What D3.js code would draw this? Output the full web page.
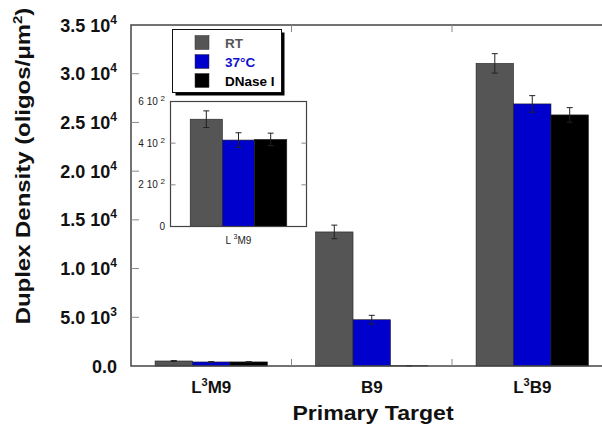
<!DOCTYPE html>
<html>
<head>
    <title>Duplex Density</title>
    <script src="https://cdn.jsdelivr.net/npm/d3@7"></script>
    <style>
        body { margin: 0; background: #fff; }
        text { font-family: "Liberation Sans", Arial, sans-serif; }
    </style>
</head>
<body>
    <svg width="602" height="425" id="mainsvg" style="display: block; overflow: hidden;"></svg>
    <script>
        // data
        const targets = ['L3M9', 'B9', 'L3B9'];
        const conditions = ['RT', '37°C', 'DNase I'];
        const rtVals = [515, 13760, 31060];
        const rtErr = [40, 700, 1000];
        const warmVals = [415, 4750, 26900];
        const warmErr = [35, 450, 850];
        const dnaseVals = [418, 30, 25770];
        const dnaseErr = [30, 15, 750];
        const yTicks = [0, 5000, 10000, 15000, 20000, 25000, 30000, 35000];
        const insetTicks = [0, 200, 400, 600];

        const colors = ['#555555', '#0000cc', '#000000'];
        const legendText = ['#555555', '#1010cc', '#000000'];
        const series = [
            { name: conditions[0], vals: rtVals, err: rtErr },
            { name: conditions[1], vals: warmVals, err: warmErr },
            { name: conditions[2], vals: dnaseVals, err: dnaseErr }
        ];

        const svg = d3.select('svg');
        const frameColor = '#444';
        const tickColor = '#888';

        const L = 131, T = 25, B = 366, R = 612.5;
        const x = d3.scaleBand().domain(targets).range([L, R]).paddingInner(0).paddingOuter(0);
        const xs = d3.scaleBand().domain(conditions).range([x.bandwidth() * 0.15, x.bandwidth() * 0.85]);
        const y = d3.scaleLinear().domain([0, 35000]).range([B, T]);

        // label with superscripts: the tspan after a superscript drops back down
        const supLabel = (sel, parts, supSize, rise) => {
            let lifted = false;
            parts.forEach(p => {
                const ts = sel.append('tspan').text(p.t);
                if (p.sup) { ts.attr('font-size', supSize).attr('dy', -rise); lifted = true; }
                else if (lifted) { ts.attr('dy', rise); lifted = false; }
            });
        };
        const catParts = c => c.startsWith('L3') ? [{ t: 'L' }, { t: '3', sup: true }, { t: c.slice(2) }] : [{ t: c }];

        // bars
        const groups = svg.selectAll('.grp').data(targets).join('g').attr('class', 'grp')
            .attr('transform', d => `translate(${x(d)},0)`);
        series.forEach((s, si) => {
            groups.append('rect')
                .attr('x', xs(s.name)).attr('width', xs.bandwidth())
                .attr('y', (d, i) => y(s.vals[i])).attr('height', (d, i) => B - y(s.vals[i]))
                .attr('fill', colors[si]).attr('stroke', '#222').attr('stroke-width', 0.6);
            const cx = xs(s.name) + xs.bandwidth() / 2;
            groups.append('path')
                .attr('d', (d, i) => {
                    const y1 = y(s.vals[i] + s.err[i]), y0 = y(Math.max(0, s.vals[i] - s.err[i]));
                    return `M${cx},${y1}V${y0}M${cx - 3},${y1}H${cx + 3}M${cx - 3},${y0}H${cx + 3}`;
                })
                .attr('stroke', '#222').attr('stroke-width', 1).attr('fill', 'none');
        });

        // frame
        svg.append('rect').attr('x', L).attr('y', T).attr('width', R - L).attr('height', B - T)
            .attr('fill', 'none').attr('stroke', frameColor).attr('stroke-width', 1.5);

        // y ticks inside
        svg.selectAll('.ytick').data(yTicks.slice(1, -1)).join('line').attr('class', 'ytick')
            .attr('x1', L).attr('x2', L + 8).attr('y1', y).attr('y2', y)
            .attr('stroke', tickColor).attr('stroke-width', 1);
        // x ticks between categories, top and bottom
        const bounds = targets.slice(1).map(d => x(d));
        bounds.forEach(bx => {
            svg.append('line').attr('x1', bx).attr('x2', bx).attr('y1', B).attr('y2', B - 7)
                .attr('stroke', tickColor);
            svg.append('line').attr('x1', bx).attr('x2', bx).attr('y1', T).attr('y2', T + 7)
                .attr('stroke', tickColor);
        });

        // y tick labels
        yTicks.forEach(v => {
            const t = svg.append('text').attr('x', 117).attr('y', y(v) + 6.5)
                .attr('text-anchor', 'end').attr('font-size', 18).attr('font-weight', 'bold').attr('fill', '#111');
            if (v === 0) { t.text('0.0'); return; }
            const e = Math.floor(Math.log10(v));
            const m = (v / Math.pow(10, e)).toFixed(1);
            supLabel(t, [{ t: m + ' 10' }, { t: String(e), sup: true }], 12, 8);
        });

        // category labels
        targets.forEach(c => {
            const t = svg.append('text').attr('x', x(c) + x.bandwidth() / 2).attr('y', 393)
                .attr('text-anchor', 'middle').attr('font-size', 17).attr('font-weight', 'bold').attr('fill', '#111');
            supLabel(t, catParts(c), 11, 7);
        });

        svg.append('text').attr('transform', 'translate(373,420) scale(1.1,1)').attr('text-anchor', 'middle')
            .attr('font-size', 21).attr('font-weight', 'bold').attr('fill', '#111').text('Primary Target');

        const yl = svg.append('text').attr('transform', 'translate(30,166) rotate(-90) scale(1.14,1)')
            .attr('text-anchor', 'middle').attr('font-size', 21).attr('font-weight', 'bold').attr('fill', '#111');
        supLabel(yl, [{ t: 'Duplex Density (oligos/\u03bcm' }, { t: '2', sup: true }, { t: ')' }], 13, 8);

        // legend
        const lg = svg.append('g');
        lg.append('rect').attr('x', 175.5).attr('y', 32.5).attr('width', 109).attr('height', 63).attr('fill', '#000');
        lg.append('rect').attr('x', 172.5).attr('y', 29.5).attr('width', 109).attr('height', 63)
            .attr('fill', '#fff').attr('stroke', '#111').attr('stroke-width', 1);
        series.forEach((s, i) => {
            const cy = 42.5 + i * 19;
            lg.append('rect').attr('x', 195).attr('y', cy - 7).attr('width', 14).attr('height', 14)
                .attr('fill', colors[i]).attr('stroke', '#333').attr('stroke-width', 0.5);
            lg.append('text').attr('x', 225).attr('y', cy + 5).attr('font-size', 13.5).attr('font-weight', 'bold')
                .attr('fill', legendText[i]).text(s.name);
        });

        // inset
        const iL = 170.5, iR = 306.5, iT = 101.5, iB = 226.5;
        const ix = d3.scaleBand().domain(conditions).range([iL + (iR - iL) * 0.145, iR - (iR - iL) * 0.145]);
        const iy = d3.scaleLinear().domain([0, 600]).range([iB, iT]);
        const inset = svg.append('g');
        inset.append('rect').attr('x', iL).attr('y', iT).attr('width', iR - iL).attr('height', iB - iT)
            .attr('fill', '#fff');
        series.forEach((s, si) => {
            inset.append('rect').attr('x', ix(s.name)).attr('width', ix.bandwidth())
                .attr('y', iy(s.vals[0])).attr('height', iB - iy(s.vals[0]))
                .attr('fill', colors[si]).attr('stroke', '#222').attr('stroke-width', 0.6);
            const cx = ix(s.name) + ix.bandwidth() / 2;
            const y1 = iy(s.vals[0] + s.err[0]), y0 = iy(s.vals[0] - s.err[0]);
            inset.append('path').attr('d', `M${cx},${y1}V${y0}M${cx - 3},${y1}H${cx + 3}M${cx - 3},${y0}H${cx + 3}`)
                .attr('stroke', '#222').attr('fill', 'none');
        });
        inset.append('rect').attr('x', iL).attr('y', iT).attr('width', iR - iL).attr('height', iB - iT)
            .attr('fill', 'none').attr('stroke', frameColor).attr('stroke-width', 1.2);
        insetTicks.slice(1, -1).forEach(v => {
            inset.append('line').attr('x1', iL).attr('x2', iL + 5).attr('y1', iy(v)).attr('y2', iy(v)).attr('stroke', tickColor);
            inset.append('line').attr('x1', iR).attr('x2', iR - 5).attr('y1', iy(v)).attr('y2', iy(v)).attr('stroke', tickColor);
        });
        insetTicks.forEach(v => {
            const t = inset.append('text').attr('x', 165).attr('y', iy(v) + 3.5).attr('text-anchor', 'end')
                .attr('font-size', 10).attr('fill', '#222');
            if (v === 0) { t.text('0'); return; }
            const e = Math.floor(Math.log10(v));
            supLabel(t, [{ t: (v / Math.pow(10, e)) + ' 10 ' }, { t: String(e), sup: true }], 8, 4);
        });
        const il = inset.append('text').attr('x', (iL + iR) / 2).attr('y', 244).attr('text-anchor', 'middle')
            .attr('font-size', 10).attr('fill', '#222');
        supLabel(il, [{ t: 'L ' }, { t: '3', sup: true }, { t: 'M9' }], 7, 5);
    </script>
</body>
</html>
